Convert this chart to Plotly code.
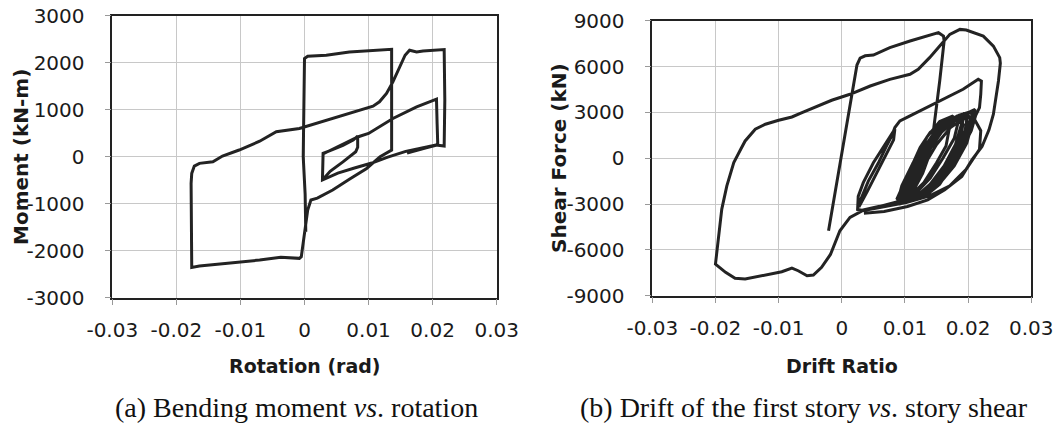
import plotly.graph_objects as go

# ---------------- Data: (a) bending moment vs rotation ----------------
a_seg1_x = [0.0002, 0.0001, -0.0002, -0.0001, 0.0000, 0.0005, 0.0034, 0.0070, 0.0100, 0.0117, 0.0133, 0.0136,
            0.0136, 0.0136, 0.0118, 0.0097, 0.0070, 0.0044, 0.0020, 0.0010, 0.0005, 0.0000, -0.0005, -0.0008,
            -0.0037, -0.0070, -0.0097, -0.0138, -0.0164, -0.0176, -0.0177, -0.0177, -0.0176, -0.0172, -0.0164,
            -0.0154, -0.0143, -0.0128, -0.0102, -0.0070, -0.0044, -0.0008, 0.0018, 0.0060, 0.0086, 0.0107,
            0.0117, 0.0128, 0.0138, 0.0149, 0.0157, 0.0164, 0.0175, 0.0185, 0.0201, 0.0218, 0.0219, 0.0218]
a_seg1_y = [-1600, -800, 0, 1000, 2088, 2137, 2159, 2229, 2250, 2265, 2286, 2286,
            1200, 142, 0, -250, -480, -709, -880, -922, -1135, -1631, -2128, -2163,
            -2142, -2199, -2234, -2284, -2326, -2355, -1200, -567, -355, -199, -142,
            -128, -106, 14, 142, 330, 531, 602, 708, 885, 991, 1076,
            1168, 1345, 1592, 1911, 2159, 2265, 2229, 2250, 2265, 2279, 1200, 226]

a_seg2_x = [0.0218, 0.0205, 0.0158, 0.0130, 0.0105, 0.0078, 0.0052, 0.0028, 0.0028, 0.0029, 0.0036, 0.0060,
            0.0076, 0.0083, 0.0083, 0.0080, 0.0060, 0.0040, 0.0028, 0.0029, 0.0035, 0.0060, 0.0084, 0.0100,
            0.0138, 0.0175, 0.0206, 0.0207, 0.0208, 0.0190, 0.0160]
a_seg2_y = [226, 250, 113, -10, -135, -240, -348, -496, -200, 71, 110, 240,
            354, 440, 200, 106, -110, -310, -496, 60, 100, 260, 425, 495,
            814, 1062, 1224, 700, 250, 190, 80]

# ---------------- Data: (b) story shear vs drift ratio ----------------
b_first_x = [-0.0021, -0.0010, 0.0000, 0.0013, 0.0024, 0.0029, 0.0037, 0.0050, 0.0076, 0.0108, 0.0139, 0.0153,
             0.0161, 0.0162, 0.0155, 0.0145, 0.0137, 0.0128, 0.0115, 0.0105]
b_first_y = [-4750, -2100, 400, 3500, 6100, 6550, 6700, 6752, 7235, 7670, 8061, 8216,
             7993, 7670, 5052, 1784, 46, -1000, -2000, -2600]

b_dense1_x = [0.0115, 0.0130, 0.0145, 0.0165, 0.0182, 0.0192, 0.0185, 0.0170, 0.0150, 0.0125, 0.0100,
              0.0110, 0.0125, 0.0140, 0.0160, 0.0192, 0.0200, 0.0192, 0.0175, 0.0155, 0.0130, 0.0095,
              0.0100, 0.0118, 0.0132, 0.0150, 0.0170, 0.0185, 0.0178, 0.0160, 0.0140, 0.0115, 0.0088,
              0.0095, 0.0113, 0.0124, 0.0140, 0.0161, 0.0170, 0.0165, 0.0150, 0.0130, 0.0108, 0.0087]
b_dense1_y = [-1200, 200, 1300, 2300, 2750, 2500, 1200, -200, -1500, -2500, -2900,
              -1900, -600, 700, 1900, 2876, 2300, 1000, -400, -1700, -2550, -2950,
              -2000, -500, 800, 1900, 2600, 2500, 1300, 0, -1300, -2400, -2900,
              -1800, -300, 700, 1700, 2330, 1900, 800, -300, -1600, -2500, -2700]

b_dense1b_x = [0.0100, 0.0118, 0.0135, 0.0155, 0.0175, 0.0190, 0.0180, 0.0162, 0.0140, 0.0118, 0.0098,
               0.0108, 0.0126, 0.0142, 0.0162, 0.0185, 0.0198, 0.0195, 0.0180, 0.0158, 0.0132, 0.0105,
               0.0112, 0.0130, 0.0150, 0.0172, 0.0200, 0.0207, 0.0198, 0.0178, 0.0152, 0.0125, 0.0096,
               0.0105, 0.0122, 0.0138, 0.0158, 0.0180, 0.0192, 0.0185, 0.0168, 0.0145, 0.0120, 0.0090]
b_dense1b_y = [-1500, 0, 1400, 2400, 2750, 2300, 900, -500, -1700, -2500, -2800,
               -1600, -200, 1000, 2100, 2700, 2600, 1500, 200, -1200, -2300, -2800,
               -1900, -500, 900, 2000, 2800, 2400, 1000, -500, -1800, -2600, -2950,
               -2000, -700, 500, 1700, 2500, 2200, 1000, -300, -1600, -2500, -2850]

b_cluster_x = [0.0060, 0.0032, 0.0025, 0.0026, 0.0034, 0.0050, 0.0066, 0.0079, 0.0084, 0.0082, 0.0070,
               0.0055, 0.0040, 0.0027, 0.0030, 0.0042, 0.0058, 0.0072, 0.0079, 0.0084, 0.0092, 0.0108,
               0.0139, 0.0166, 0.0192, 0.0216, 0.0221, 0.0220, 0.0218, 0.0212]
b_cluster_y = [-3150, -3400, -3350, -2500, -1600, -300, 700, 1500, 1900, 1200, 200,
               -1000, -2200, -3200, -2700, -1500, -300, 900, 1458, 2007, 2438, 2765,
               3418, 3967, 4510, 5163, 5052, 4200, 3314, 2800]

b_dense2_x = [0.0205, 0.0190, 0.0170, 0.0145, 0.0120, 0.0100, 0.0105, 0.0120, 0.0138, 0.0160, 0.0185, 0.0208,
              0.0200, 0.0185, 0.0165, 0.0140, 0.0115, 0.0092, 0.0098, 0.0112, 0.0128, 0.0150, 0.0175, 0.0200,
              0.0195, 0.0180, 0.0160, 0.0135, 0.0110, 0.0098, 0.0115, 0.0130, 0.0148, 0.0170, 0.0211,
              0.0205, 0.0188, 0.0168, 0.0142, 0.0116, 0.0102, 0.0120, 0.0136, 0.0152, 0.0176, 0.0204,
              0.0220, 0.0218, 0.0197, 0.0171, 0.0139, 0.0102, 0.0060, 0.0032]
b_dense2_y = [1800, 600, -800, -2000, -2700, -2850, -1800, -400, 900, 2000, 2800, 3091,
              2000, 700, -600, -1900, -2700, -2900, -2000, -700, 600, 1800, 2600, 2900,
              1800, 500, -900, -2100, -2750, -2400, -1100, 200, 1400, 2400, 3200,
              2200, 800, -500, -1800, -2600, -2300, -900, 300, 1500, 2500, 3000,
              1800, 588, -719, -1810, -2464, -2896, -3222, -3445]

b_big_x = [0.0013, -0.0003, -0.0018, -0.0032, -0.0045, -0.0055, -0.0069, -0.0079, -0.0095, -0.0116, -0.0132,
           -0.0153, -0.0169, -0.0184, -0.0200, -0.0197, -0.0190, -0.0182, -0.0171, -0.0160, -0.0153, -0.0137,
           -0.0121, -0.0100, -0.0079, -0.0063, -0.0042, -0.0016, 0.0013, 0.0045, 0.0076, 0.0108, 0.0121,
           0.0139, 0.0155, 0.0171, 0.0187, 0.0197, 0.0224, 0.0240, 0.0250, 0.0251, 0.0248, 0.0240, 0.0233,
           0.0222, 0.0206, 0.0190, 0.0163, 0.0136, 0.0104, 0.0067, 0.0035]
b_big_y = [-3876, -4750, -6300, -7144, -7647, -7693, -7366, -7190, -7432, -7602, -7758,
           -7908, -7863, -7471, -6928, -5948, -3333, -1810, -281, 588, 1131, 1895,
           2222, 2484, 2700, 2987, 3353, 3791, 4183, 4725, 5163, 5490, 5817,
           6582, 7340, 8105, 8431, 8386, 7993, 7340, 6582, 6218, 5052, 2876, 1855,
           764, -109, -1200, -2073, -2727, -3164, -3491, -3600]

tick_vals_x = [-0.03, -0.02, -0.01, 0, 0.01, 0.02, 0.03]
tick_text_x = ["-0.03", "-0.02", "-0.01", "0", "0.01", "0.02", "0.03"]
tick_vals_ya = [-3000, -2000, -1000, 0, 1000, 2000, 3000]
tick_text_ya = ["-3000", "-2000", "-1000", "0", "1000", "2000", "3000"]
tick_vals_yb = [-9000, -6000, -3000, 0, 3000, 6000, 9000]
tick_text_yb = ["-9000", "-6000", "-3000", "0", "3000", "6000", "9000"]

a_x = a_seg1_x + a_seg2_x
a_y = a_seg1_y + a_seg2_y
b_x = b_first_x + b_dense1_x + b_dense1b_x + b_cluster_x + b_dense2_x + b_big_x
b_y = b_first_y + b_dense1_y + b_dense1b_y + b_cluster_y + b_dense2_y + b_big_y

W, H = 1059, 425
LINE = dict(color="#232323", width=3)

fig = go.Figure()
fig.add_trace(go.Scatter(x=a_x, y=a_y, mode="lines", line=LINE, xaxis="x", yaxis="y", showlegend=False))
fig.add_trace(go.Scatter(x=b_x, y=b_y, mode="lines", line=LINE, xaxis="x2", yaxis="y2", showlegend=False))

tick_font = dict(family="DejaVu Sans", size=20, color="#1a1a1a")
common = dict(showline=True, mirror=True, linecolor="#222", linewidth=1.5,
              showgrid=True, gridcolor="#c8c8c8", gridwidth=1,
              ticks="outside", ticklen=6, tickcolor="#999", tickwidth=1,
              tickfont=tick_font, zeroline=False, automargin=False)

fig.update_layout(
    width=W, height=H,
    margin=dict(l=0, r=0, t=0, b=0, autoexpand=False),
    paper_bgcolor="white", plot_bgcolor="white",
    xaxis=dict(domain=[112.3 / W, 496.7 / W], range=[-0.03, 0.03], tickvals=tick_vals_x,
               ticktext=tick_text_x, anchor="y", ticklabelstandoff=8, **common),
    yaxis=dict(domain=[1 - 297.7 / H, 1 - 15.7 / H], range=[-3000, 3000], tickvals=tick_vals_ya,
               ticktext=tick_text_ya, anchor="x", ticklabelstandoff=16, **common),
    xaxis2=dict(domain=[652.3 / W, 1031.3 / W], range=[-0.03, 0.03], tickvals=tick_vals_x,
                ticktext=tick_text_x, anchor="y2", ticklabelstandoff=8, **common),
    yaxis2=dict(domain=[1 - 295.7 / H, 1 - 20.7 / H], range=[-9000, 9000], tickvals=tick_vals_yb,
                ticktext=tick_text_yb, anchor="x2", ticklabelstandoff=16, **common),
)

ytitle_font = dict(family="DejaVu Sans", size=20, color="#1a1a1a", weight="bold")
xtitle_font = dict(family="DejaVu Sans", size=19, color="#1a1a1a", weight="bold")
cap_font = dict(family="Liberation Serif", size=28, color="#111")

def ann(text, px, py, font, angle=0):
    fig.add_annotation(text=text, x=px / W, y=1 - py / H, xref="paper", yref="paper",
                       showarrow=False, font=font, textangle=angle, xanchor="center", yanchor="middle")

ann("Moment (kN-m)", 21, 157, ytitle_font, -90)
ann("Rotation (rad)", 304.5, 366, xtitle_font)
ann("Shear Force (kN)", 559, 158, ytitle_font, -90)
ann("Drift Ratio", 841.8, 366, xtitle_font)
ann("(a) Bending moment <i>vs</i>. rotation", 296, 407, cap_font)
ann("(b) Drift of the first story <i>vs</i>. story shear", 804, 407, cap_font)

fig.write_html("out.html",
               post_script="document.body.style.margin='0';document.body.style.overflow='hidden';")
